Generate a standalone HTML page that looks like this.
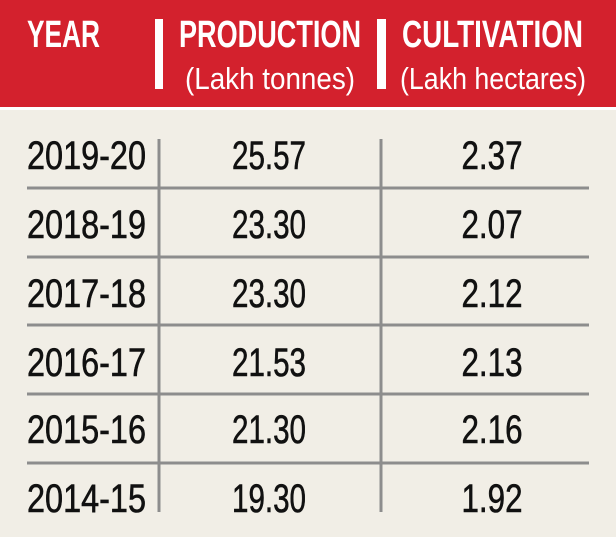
<!DOCTYPE html>
<html><head><meta charset="utf-8"><style>
html,body{margin:0;padding:0;background:#f1eee6;}
svg{display:block}
</style></head><body>
<svg width="616" height="537" viewBox="0 0 616 537" xmlns="http://www.w3.org/2000/svg" font-family="'Liberation Sans Narrow','Liberation Sans',sans-serif">
<rect x="0" y="0" width="616" height="537" fill="#f1eee6"/>
<rect x="0" y="0" width="616" height="107" fill="#d3212d"/>
<rect x="0" y="107" width="616" height="3" fill="#ffffff"/>
<rect x="155" y="19" width="8" height="70" fill="#fff"/>
<rect x="377" y="19" width="9" height="70" fill="#fff"/>
<g fill="#fff" font-weight="bold" font-size="38">
<text x="27" y="47" textLength="73" lengthAdjust="spacingAndGlyphs">YEAR</text>
<text x="179" y="47" textLength="182" lengthAdjust="spacingAndGlyphs">PRODUCTION</text>
<text x="402" y="47" textLength="181" lengthAdjust="spacingAndGlyphs">CULTIVATION</text>
</g>
<g fill="#fff" font-size="31">
<text x="185" y="89" textLength="170" lengthAdjust="spacingAndGlyphs">(Lakh tonnes)</text>
<text x="400" y="89" textLength="186" lengthAdjust="spacingAndGlyphs">(Lakh hectares)</text>
</g>
<g stroke="#8d8d8d" stroke-width="3">
<line x1="27" y1="188" x2="589" y2="188"/>
<line x1="27" y1="257" x2="589" y2="257"/>
<line x1="27" y1="325" x2="589" y2="325"/>
<line x1="27" y1="394" x2="589" y2="394"/>
<line x1="27" y1="463" x2="589" y2="463"/>
<line x1="159" y1="139" x2="159" y2="512"/>
<line x1="381" y1="139" x2="381" y2="512"/>
</g>
<g fill="#111" stroke="#111" stroke-width="0.6" font-size="40">
<g>
<text x="27" y="169" textLength="119" lengthAdjust="spacingAndGlyphs">2019-20</text>
<text x="269" y="169" text-anchor="middle" textLength="74" lengthAdjust="spacingAndGlyphs">25.57</text>
<text x="492" y="169" text-anchor="middle" textLength="61" lengthAdjust="spacingAndGlyphs">2.37</text>
</g>
<g>
<text x="27" y="238" textLength="119" lengthAdjust="spacingAndGlyphs">2018-19</text>
<text x="269" y="238" text-anchor="middle" textLength="74" lengthAdjust="spacingAndGlyphs">23.30</text>
<text x="492" y="238" text-anchor="middle" textLength="61" lengthAdjust="spacingAndGlyphs">2.07</text>
</g>
<g>
<text x="27" y="307" textLength="119" lengthAdjust="spacingAndGlyphs">2017-18</text>
<text x="269" y="307" text-anchor="middle" textLength="74" lengthAdjust="spacingAndGlyphs">23.30</text>
<text x="492" y="307" text-anchor="middle" textLength="61" lengthAdjust="spacingAndGlyphs">2.12</text>
</g>
<g>
<text x="27" y="376" textLength="119" lengthAdjust="spacingAndGlyphs">2016-17</text>
<text x="269" y="376" text-anchor="middle" textLength="74" lengthAdjust="spacingAndGlyphs">21.53</text>
<text x="492" y="376" text-anchor="middle" textLength="61" lengthAdjust="spacingAndGlyphs">2.13</text>
</g>
<g>
<text x="27" y="443" textLength="119" lengthAdjust="spacingAndGlyphs">2015-16</text>
<text x="269" y="443" text-anchor="middle" textLength="74" lengthAdjust="spacingAndGlyphs">21.30</text>
<text x="492" y="443" text-anchor="middle" textLength="61" lengthAdjust="spacingAndGlyphs">2.16</text>
</g>
<g>
<text x="27" y="512" textLength="119" lengthAdjust="spacingAndGlyphs">2014-15</text>
<text x="269" y="512" text-anchor="middle" textLength="74" lengthAdjust="spacingAndGlyphs">19.30</text>
<text x="492" y="512" text-anchor="middle" textLength="61" lengthAdjust="spacingAndGlyphs">1.92</text>
</g>
</g>
</svg>
</body></html>
